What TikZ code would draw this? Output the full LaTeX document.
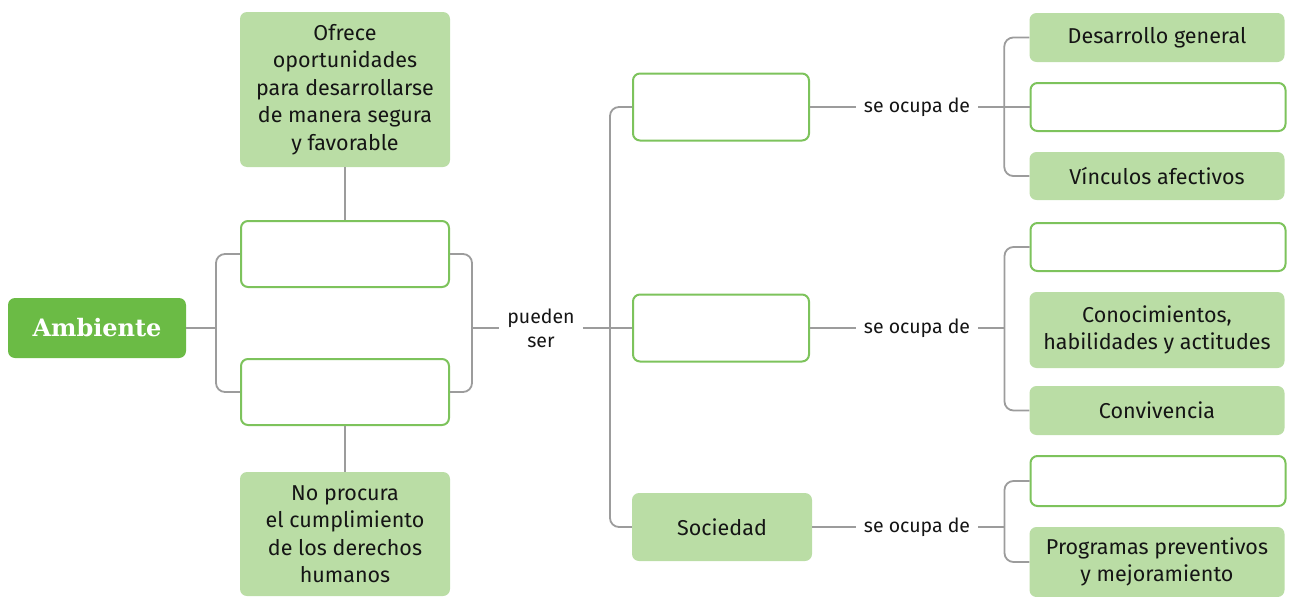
\documentclass[tikz,border=0pt]{standalone}
\usepackage{fontspec}
\setmainfont{Fira Sans}
\newfontfamily\ambfont{DejaVu Serif}
\definecolor{lgreen}{HTML}{BADDA5}
\definecolor{bgreen}{HTML}{7DC35C}
\definecolor{dgreen}{HTML}{6BBB45}
\definecolor{conncol}{HTML}{9C9C9C}
\definecolor{txt}{HTML}{151515}
\begin{document}
\begin{tikzpicture}[x=1pt,y=-1pt,
  every node/.style={font=\fontsize{21.5}{27.5}\selectfont, text=txt, align=center, inner sep=0pt},
  fbox/.style={rounded corners=7pt, fill=lgreen, minimum width=#1},
  ebox/.style={rounded corners=7pt, fill=white, draw=bgreen, line width=2pt, minimum width=#1},
  conn/.style={draw=conncol, line width=1.8pt, rounded corners=9pt},
  lbl/.style={inner xsep=8pt, inner ysep=2pt, font=\fontsize{19.5}{24}\selectfont}]
\useasboundingbox (0,0) rectangle (1291,597);
% left part
\node[rounded corners=7pt, fill=dgreen, minimum width=178pt, minimum height=60pt,
      font=\ambfont\bfseries\fontsize{24}{26}\selectfont, text=white] (amb) at (97,328) {Ambiente};
\node[fbox=210pt, minimum height=155pt] (ofr) at (345,89.5) {Ofrece\\oportunidades\\para desarrollarse\\de manera segura\\y favorable};
\node[ebox=208pt, minimum height=66pt] (e1) at (345,254) {};
\node[ebox=208pt, minimum height=66pt] (e2) at (345,392) {};
\node[fbox=210pt, minimum height=124pt] (nop) at (345,534) {No procura\\el cumplimiento\\de los derechos\\humanos};
% middle
\node[lbl] (pue) at (541,328) {pueden\\ser};
\node[ebox=176pt, minimum height=67pt] (A) at (721,107) {};
\node[ebox=176pt, minimum height=67pt] (B) at (721,328) {};
\node[fbox=180pt, minimum height=68pt] (soc) at (722,527) {Sociedad};
\node[lbl] (s1) at (917,107) {se ocupa de};
\node[lbl] (s2) at (917,328) {se ocupa de};
\node[lbl] (s3) at (917,527) {se ocupa de};
% right
\node[fbox=255pt, minimum height=49pt] (dg) at (1157,37.5) {Desarrollo general};
\node[ebox=255pt, minimum height=48pt] (e3) at (1158,107) {};
\node[fbox=255pt, minimum height=48pt] (vin) at (1157,176) {Vínculos afectivos};
\node[ebox=255pt, minimum height=48pt] (e4) at (1158,247) {};
\node[fbox=255pt, minimum height=76pt] (con) at (1157,330) {Conocimientos,\\habilidades y actitudes};
\node[fbox=255pt, minimum height=49pt] (conv) at (1157,410.5) {Convivencia};
\node[ebox=255pt, minimum height=50pt] (e5) at (1158,481) {};
\node[fbox=255pt, minimum height=70pt] (prog) at (1157,562) {Programas preventivos\\y mejoramiento};
% coordinates
\coordinate (jl) at (216,328);
\coordinate (jr) at (472,328);
\coordinate (jm) at (610,328);
\coordinate (j2) at (1005,328);
\coordinate (j3) at (1005,527);
% connectors
\draw[conn] (ofr.south) -- (e1.north);
\draw[conn] (e2.south) -- (nop.north);
\draw[conn] (amb.east) -- (jl);
\draw[conn] (e1.west) -- ++(-24,0) |- (e2.west);
\draw[conn] (e1.east) -- ++(22,0) |- (e2.east);
\draw[conn] (jr) -- (pue.west);
\draw[conn] (pue.east) -- (jm);
\draw[conn] (A.west) -- ++(-22,0) |- (soc.west);
\draw[conn] (jm) -- (B.west);
\draw[conn] (A.east) -- (s1.west);
\draw[conn] (B.east) -- (s2.west);
\draw[conn] (soc.east) -- (s3.west);
\draw[conn] (dg.west) -- ++(-25,0) |- (vin.west);
\draw[conn] (s1.east) -- (e3.west);
\draw[conn] (e4.west) -- ++(-25,0) |- (conv.west);
\draw[conn] (s2.east) -- (j2);
\draw[conn] (e5.west) -- ++(-25,0) |- (prog.west);
\draw[conn] (s3.east) -- (j3);
\end{tikzpicture}
\end{document}
